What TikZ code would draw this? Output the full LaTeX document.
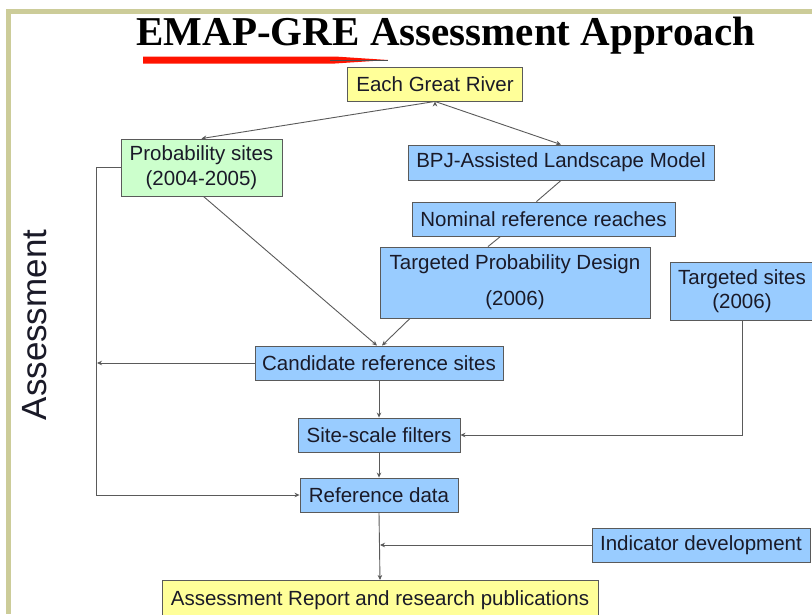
\documentclass[tikz,border=0pt]{standalone}
\usepackage{fontspec}
\setmainfont{Liberation Sans}
\newfontfamily\titlefont{Liberation Serif}
\usetikzlibrary{arrows.meta,positioning}

\definecolor{frameolive}{HTML}{CCCC99}
\definecolor{boxblue}{HTML}{99CCFF}
\definecolor{boxgreen}{HTML}{CCFFCC}
\definecolor{boxyellow}{HTML}{FFFF99}
\definecolor{edgegray}{HTML}{5A5A5A}
\definecolor{inkdark}{HTML}{1A1A28}

\begin{document}
\begin{tikzpicture}[x=1pt, y=-1pt, font=\fontsize{20.5}{24}\selectfont,
  basenode/.style={rectangle, draw=edgegray, line width=0.9pt, text=inkdark, align=center, inner sep=2pt},
  bluenode/.style={basenode, fill=boxblue},
  greennode/.style={basenode, fill=boxgreen},
  yellownode/.style={basenode, fill=boxyellow},
  link/.style={draw=edgegray, line width=0.9pt},
  linkarrow/.style={link, -{Stealth[length=5pt,width=4.5pt,fill=black]}},
  ]
  \useasboundingbox (0,0) rectangle (812,614);

  % frame
  \fill[frameolive] (6,9) rectangle (812,614);
  \fill[white] (11,14) rectangle (812,614);

  % title and underline
  \node[font=\titlefont\bfseries\fontsize{41}{44}\selectfont] (title) at (446,36) {EMAP-GRE Assessment Approach};
  \fill[red!85!orange] (143,56.5) -- (335,56.5) -- (388,60) -- (335,63.5) -- (143,63.5) -- cycle;
  \draw[black!70, line width=0.8pt] (330,60) -- (388,60);

  % side label
  \node[rotate=90, font=\fontsize{35}{40}\selectfont, text=inkdark] (side) at (35,325) {Assessment};

  % nodes
  \node[yellownode, minimum width=175pt, minimum height=34pt] (river) at (435,84) {Each Great River};
  \node[greennode, minimum width=161pt, minimum height=57pt] (prob) at (201.5,167.5) {Probability sites\\[1pt](2004-2005)};
  \node[bluenode, minimum width=306pt, minimum height=35pt] (bpj) at (561,162.5) {BPJ-Assisted Landscape Model};
  \node[bluenode, minimum width=263pt, minimum height=34pt] (nominal) at (543.5,219) {Nominal reference reaches};
  \node[bluenode, minimum width=270pt, minimum height=71pt] (tpd) at (515,282.5) {Targeted Probability Design\\[12pt](2006)};
  \node[bluenode, minimum width=144pt, minimum height=58pt] (tsites) at (742,291) {Targeted sites\\(2006)};
  \node[bluenode, minimum width=248pt, minimum height=34pt] (cand) at (379,363) {Candidate reference sites};
  \node[bluenode, minimum width=162pt, minimum height=34pt] (filt) at (379,435) {Site-scale filters};
  \node[bluenode, minimum width=158pt, minimum height=34pt] (refd) at (379,495) {Reference data};
  \node[bluenode, minimum width=218pt, minimum height=34pt] (indic) at (701,545) {Indicator development};
  \node[yellownode, minimum width=436pt, minimum height=42pt, anchor=north] (report) at (380,580) {\raisebox{6pt}{Assessment Report and research publications}};

  \coordinate (candend) at (97,363);
  \coordinate (indend) at (380,545);

  % connectors
  \path [linkarrow] (river.south) edge (prob.north)
                                  edge (bpj.north);
  \draw [link] (bpj.south) -- ([xshift=-7pt]nominal.north);
  \draw [link] ([xshift=-43pt]nominal.south) -- ([xshift=-27pt]tpd.north);
  \draw [linkarrow] ([xshift=-105pt]tpd.south) -- ([xshift=3pt]cand.north);
  \draw [linkarrow] ([xshift=2pt]prob.south) -- ([xshift=-2pt]cand.north);
  \draw [linkarrow] (prob.west) -- ++(-24,0) |- (refd.west);
  \draw [linkarrow] (cand.west) -- (candend);
  \draw [linkarrow] (cand.south) -- (filt.north);
  \draw [linkarrow] (tsites.south) |- (filt.east);
  \draw [linkarrow] (filt.south) -- (refd.north);
  \draw [linkarrow] (refd.south) -- (report.north);
  \draw [linkarrow] (indic.west) -- (indend);
\end{tikzpicture}
\end{document}
